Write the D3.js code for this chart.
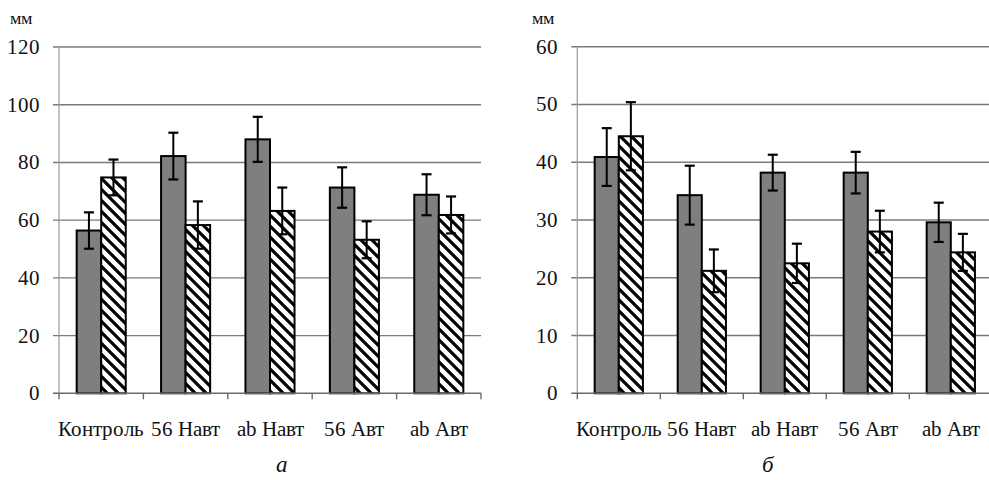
<!DOCTYPE html>
<html>
<head>
<meta charset="utf-8">
<script src="https://cdn.jsdelivr.net/npm/d3@7"></script>
<style>
  @font-face {
    font-family: "ChartSerif";
    src: local("Liberation Serif"), local("LiberationSerif"), local("LiberationSerif-Regular"), local("Tinos"), local("Times New Roman");
    font-style: normal;
  }
  @font-face {
    font-family: "ChartSerif";
    src: local("Liberation Serif Italic"), local("LiberationSerif-Italic"), local("Times New Roman Italic");
    font-style: italic;
  }
</style>
</head>
<body style="margin:0">
<script>
// values
var categories = ["Контроль", "56 Навт", "ab Навт", "56 Авт", "ab Авт"];
var series = ["gray", "hatch"];

var leftGray = [56.4, 82.2, 88.0, 71.3, 68.8];
var leftGrayErr = [6.3, 8.1, 7.8, 7.0, 7.1];
var leftHatch = [74.8, 58.3, 63.2, 53.2, 61.8];
var leftHatchErr = [6.2, 8.2, 8.1, 6.4, 6.4];

var rightGray = [40.9, 34.3, 38.2, 38.2, 29.6];
var rightGrayErr = [5.0, 5.1, 3.1, 3.6, 3.4];
var rightHatch = [44.5, 21.2, 22.5, 28.0, 24.4];
var rightHatchErr = [5.9, 3.7, 3.4, 3.6, 3.2];

var leftTicks = [0, 20, 40, 60, 80, 100, 120];
var rightTicks = [0, 10, 20, 30, 40, 50, 60];

var unitLabel = "мм";
var panelLabels = ["а", "б"];

var W = 989, H = 480;
var serif = "ChartSerif, 'Liberation Serif', 'Times New Roman', serif";

var svg = d3.select("body")
  .append("svg")
    .attr("width", W)
    .attr("height", H);

// diagonal hatch for the second series
var defs = svg.append("defs");
var pat = defs.append("pattern")
    .attr("id", "hatch")
    .attr("patternUnits", "userSpaceOnUse")
    .attr("width", 11)
    .attr("height", 11);
pat.append("rect")
    .attr("width", 11)
    .attr("height", 11)
    .attr("fill", "#fff");
pat.append("path")
    .attr("d", "M-1,-1 L12,12 M-3,8 L3,14 M8,-3 L14,3")
    .attr("stroke", "#000")
    .attr("stroke-width", 3.2);

// texts go straight onto the svg, one entry per label
var labels = [];

function drawPanel(opt){
  var y = d3.scaleLinear()
    .domain([0, opt.ticks[opt.ticks.length - 1]])
    .range([opt.yBottom, opt.yTop]);

  var x = d3.scaleBand()
    .domain(categories)
    .range([opt.xLeft, opt.xRight])
    .paddingInner(0)
    .paddingOuter(0);

  var xs = d3.scaleBand()
    .domain(series)
    .range([0, x.bandwidth()])
    .paddingInner(0)
    .paddingOuter(0.72);

  var g = svg.append("g");

  // grid lines
  g.selectAll(".grid")
    .data(opt.ticks.filter(d => d > 0))
    .enter()
    .append("line")
      .attr("x1", opt.xLeft - 6)
      .attr("x2", opt.xRight)
      .attr("y1", d => y(d))
      .attr("y2", d => y(d))
      .attr("stroke", "#7a7a7a")
      .attr("stroke-width", 1.4);

  // left axis
  g.append("line")
    .attr("x1", opt.xLeft).attr("x2", opt.xLeft)
    .attr("y1", y(0)).attr("y2", opt.yTop)
    .attr("stroke", "#9a9a9a")
    .attr("stroke-width", 1.2);

  opt.ticks.forEach(function(t){
    labels.push({x: opt.xLeft - 19, y: y(t) + 7, s: 21, a: "end", t: t});
  });
  labels.push({x: opt.unitX, y: 24, s: 18, a: "start", t: unitLabel});

  // bars
  var rows = categories.map(function(c, i){
    return [
      {cat: c, key: "gray", v: opt.gray[i], e: opt.grayErr[i]},
      {cat: c, key: "hatch", v: opt.hatch[i], e: opt.hatchErr[i]}
    ];
  }).flat();

  g.selectAll(".bar")
    .data(rows)
    .enter()
    .append("rect")
      .attr("x", d => x(d.cat) + xs(d.key))
      .attr("y", d => y(d.v))
      .attr("width", xs.bandwidth())
      .attr("height", d => y(0) - y(d.v))
      .attr("fill", d => d.key == "gray" ? "#7f7f7f" : "url(#hatch)")
      .attr("stroke", "#000")
      .attr("stroke-width", 2);

  // bottom axis
  g.append("line")
    .attr("x1", opt.xLeft - 6).attr("x2", opt.xRight)
    .attr("y1", y(0)).attr("y2", y(0))
    .attr("stroke", "#6a6a6a")
    .attr("stroke-width", 1.4);

  g.selectAll(".xtick")
    .data(categories.concat(["end"]))
    .enter()
    .append("line")
      .attr("x1", (d, i) => opt.xLeft + i * x.step())
      .attr("x2", (d, i) => opt.xLeft + i * x.step())
      .attr("y1", y(0))
      .attr("y2", y(0) + 6)
      .attr("stroke", "#6a6a6a")
      .attr("stroke-width", 1.4);

  categories.forEach(function(c){
    labels.push({x: x(c) + x.bandwidth() / 2, y: 436, s: 21, a: "middle", t: c});
  });

  // error bars
  var eb = g.selectAll(".err")
    .data(rows)
    .enter()
    .append("g")
      .attr("transform", d => "translate(" + (x(d.cat) + xs(d.key) + xs.bandwidth() / 2) + ",0)");

  eb.append("line")
    .attr("y1", d => y(d.v + d.e))
    .attr("y2", d => y(d.v - d.e))
    .attr("stroke", "#000")
    .attr("stroke-width", 2);
  eb.append("line")
    .attr("x1", -5).attr("x2", 5)
    .attr("y1", d => y(d.v + d.e))
    .attr("y2", d => y(d.v + d.e))
    .attr("stroke", "#000")
    .attr("stroke-width", 2.2);
  eb.append("line")
    .attr("x1", -5).attr("x2", 5)
    .attr("y1", d => y(d.v - d.e))
    .attr("y2", d => y(d.v - d.e))
    .attr("stroke", "#000")
    .attr("stroke-width", 2.2);

  labels.push({x: opt.captionX, y: 472, s: 23, a: "middle", t: opt.caption, it: true});
}

drawPanel({
  xLeft: 59, xRight: 481, yTop: 47, yBottom: 393.3,
  ticks: leftTicks, gray: leftGray, grayErr: leftGrayErr,
  hatch: leftHatch, hatchErr: leftHatchErr,
  unitX: 10, caption: panelLabels[0], captionX: 282
});

drawPanel({
  xLeft: 577.3, xRight: 992.3, yTop: 46.7, yBottom: 393.3,
  ticks: rightTicks, gray: rightGray, grayErr: rightGrayErr,
  hatch: rightHatch, hatchErr: rightHatchErr,
  unitX: 532, caption: panelLabels[1], captionX: 768
});

svg.selectAll("text.lbl")
  .data(labels)
  .enter()
  .append("text")
    .attr("class", "lbl")
    .attr("x", d => d.x)
    .attr("y", d => d.y)
    .attr("text-anchor", d => d.a)
    .attr("font-size", d => d.s)
    .style("font-family", serif)
    .style("font-style", d => d.it ? "italic" : "normal")
    .attr("fill", "#111")
    .text(d => d.t);
</script>
</body>
</html>
